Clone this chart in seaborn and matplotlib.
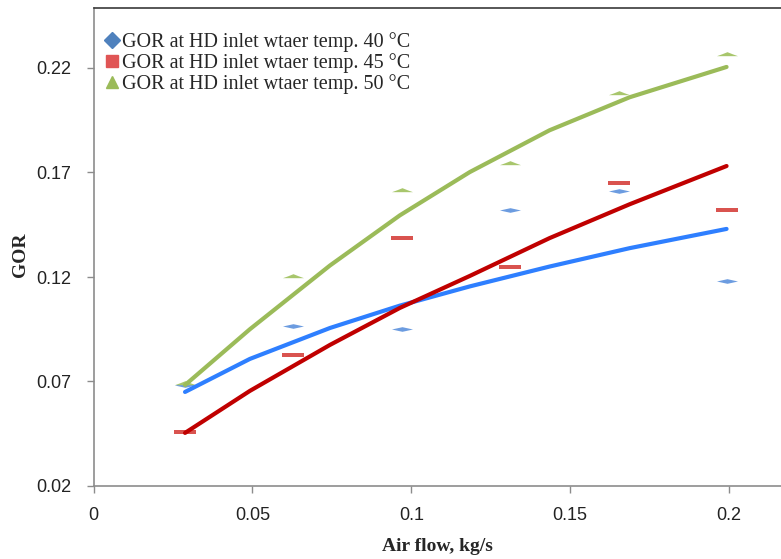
import numpy as np
import pandas as pd
import matplotlib
matplotlib.use("Agg")
import matplotlib.pyplot as plt
from matplotlib.path import Path
from matplotlib.lines import Line2D
import seaborn as sns

# ---------------------------------------------------------
# data
# ---------------------------------------------------------
air_flow = [0.0288, 0.0627, 0.0970, 0.1310, 0.1653, 0.1992]
gor_40 = [0.0683, 0.0966, 0.0951, 0.1521, 0.1611, 0.1181]
gor_45 = [0.0458, 0.0827, 0.1387, 0.1248, 0.1650, 0.1521]
gor_50 = [0.0693, 0.1205, 0.1616, 0.1745, 0.2080, 0.2267]

# trend lines as drawn in the chart
trend_x = [0.0288, 0.0492, 0.0744, 0.0964, 0.1184, 0.1435, 0.1687, 0.1992]
trend_40 = [0.0650, 0.0808, 0.0956, 0.1063, 0.1155, 0.1250, 0.1338, 0.1430]
trend_45 = [0.0454, 0.0655, 0.0875, 0.1052, 0.1205, 0.1386, 0.1548, 0.1731]
trend_50 = [0.0683, 0.0950, 0.1255, 0.1495, 0.1702, 0.1902, 0.2060, 0.2205]

labels = ['GOR at HD inlet wtaer temp. 40 °C',
          'GOR at HD inlet wtaer temp. 45 °C',
          'GOR at HD inlet wtaer temp. 50 °C']
x_ticks = [0, 0.05, 0.1, 0.15, 0.2]
x_tick_labels = ['0', '0.05', '0.1', '0.15', '0.2']
y_ticks = [0.02, 0.07, 0.12, 0.17, 0.22]
y_tick_labels = ['0.02', '0.07', '0.12', '0.17', '0.22']

# ---------------------------------------------------------
# style
# ---------------------------------------------------------
sns.set_style("white")
plt.rcParams['font.family'] = ['Liberation Serif', 'DejaVu Serif']

line_colors = ['#2E7FFF', '#C00000', '#9BBB59']
mark_colors = ['#6C9CE0', '#D9534F', '#A8C66C']
legend_colors = ['#4F81BD', '#E05555', '#9BBB59']

# flattened markers like in the original
flat_diamond = Path([(-1, 0), (0, 0.22), (1, 0), (0, -0.22), (-1, 0)],
                    [Path.MOVETO, Path.LINETO, Path.LINETO, Path.LINETO, Path.CLOSEPOLY])
flat_bar = Path([(-1, -0.2), (1, -0.2), (1, 0.2), (-1, 0.2), (-1, -0.2)],
                [Path.MOVETO, Path.LINETO, Path.LINETO, Path.LINETO, Path.CLOSEPOLY])
flat_tri = Path([(-1, -0.16), (1, -0.16), (0.5, 0.02), (0, 0.22), (-0.5, 0.02), (-1, -0.16)],
                [Path.MOVETO, Path.LINETO, Path.LINETO, Path.LINETO, Path.LINETO, Path.CLOSEPOLY])
markers = [flat_diamond, flat_bar, flat_tri]

pts = pd.DataFrame({'x': air_flow * 3, 'y': gor_40 + gor_45 + gor_50,
                    's': [labels[0]] * 6 + [labels[1]] * 6 + [labels[2]] * 6})
trend = pd.DataFrame({'x': trend_x * 3, 'y': trend_40 + trend_45 + trend_50,
                      's': [labels[0]] * 8 + [labels[1]] * 8 + [labels[2]] * 8})

# axes box placed as in the reference (bottom spine ~486 px, top ~8 px)
fig = plt.figure(figsize=(7.81, 5.59), dpi=100)
ax = fig.add_axes([93.5 / 781, (559 - 486) / 559, (781 - 93.5) / 781, (486 - 8) / 559])

for lab, mk, c in zip(labels, markers, mark_colors):
    sns.scatterplot(data=pts[pts['s'] == lab], x='x', y='y', marker=mk, s=230,
                    color=c, linewidth=0, ax=ax, legend=False, zorder=2)

for lab, c in zip(labels, line_colors):
    sns.lineplot(data=trend[trend['s'] == lab], x='x', y='y', color=c, linewidth=3.0,
                 ax=ax, legend=False, zorder=3, solid_capstyle='round',
                 solid_joinstyle='round')

ax.set_xlim(0, (781 - 93.5) / 3178)
ax.set_ylim(0.02, 0.02 + (486 - 8) / 2090)
ax.set_xticks(x_ticks)
ax.set_xticklabels(x_tick_labels)
ax.set_yticks(y_ticks)
ax.set_yticklabels(y_tick_labels)

tick_font = ['Liberation Sans Narrow', 'Liberation Sans', 'DejaVu Sans']
for t in ax.get_xticklabels() + ax.get_yticklabels():
    t.set_family(tick_font)
    t.set_fontsize(13)
    t.set_color('#222222')

ax.tick_params(axis='both', direction='out', length=5, width=1, color='#8C8C8C', left=True, bottom=True)
ax.tick_params(axis='y', pad=11)
ax.tick_params(axis='x', pad=10)

for side in ['left', 'bottom']:
    ax.spines[side].set_color('#8C8C8C')
    ax.spines[side].set_linewidth(1.2)
ax.spines['right'].set_visible(False)
ax.spines['top'].set_color('#3A3A3A')
ax.spines['top'].set_linewidth(1.2)

ax.set_xlabel('Air flow, kg/s', fontsize=14, fontweight='bold')
ax.set_ylabel('GOR', fontsize=14, fontweight='bold')
ax.xaxis.set_label_coords(0.5, -0.108)
ax.yaxis.set_label_coords(-0.094, 0.483)

handles = [Line2D([], [], linestyle='none', marker=m, color=c, markersize=s)
           for m, c, s in zip(['D', 's', '^'], legend_colors, [8, 9, 9])]
ax.legend(handles, labels, loc='upper left', bbox_to_anchor=(0.0, 0.97), frameon=False,
          fontsize=14.5, handlelength=0.8, handletextpad=0.1, labelspacing=0.05,
          borderaxespad=0.3, borderpad=0.2)

fig.savefig('out.png', dpi=100)
